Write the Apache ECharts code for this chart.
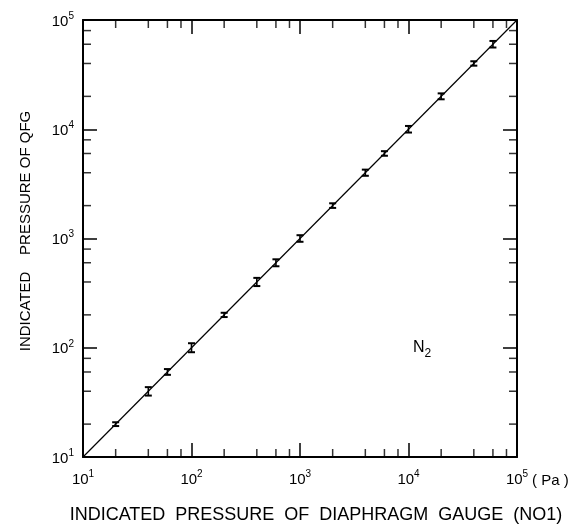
<!DOCTYPE html>
<html>
<head>
<meta charset="utf-8">
<script src="https://cdn.jsdelivr.net/npm/echarts@6/dist/echarts.min.js"></script>
<style>html,body{margin:0;padding:0;background:#fff}#c{width:571px;height:525px}</style>
</head>
<body>
<div id="c"></div>
<script>
// Indicated pressure of diaphragm gauge (Pa)
const gaugeValues = [20, 40, 60, 100, 200, 400, 600, 1000, 2000, 4000, 6000, 10000, 20000, 40000, 60000];
// Indicated pressure of QFG (Pa), central reading
const qfgValues = [20, 40, 60, 100, 200, 400, 600, 1000, 2000, 4000, 6000, 10000, 20000, 40000, 60000];
// Error bar ends
const qfgLow  = [19.2, 36.5, 56.5, 91, 191, 367, 557, 933, 1905, 3750, 5720, 9330, 18800, 38200, 56000];
const qfgHigh = [20.8, 43.6, 63.8, 110, 209, 436, 645, 1072, 2100, 4270, 6300, 10720, 21300, 41900, 64300];
// Reference line y = x
const lineEnds = [[10, 10], [100000, 100000]];
// Axis range and minor tick multipliers
const axisMin = 10, axisMax = 100000;
const minorMultipliers = [2, 4, 6, 8];
const decades = [10, 100, 1000, 10000];

const FONT = '"Liberation Sans", Arial, sans-serif';
const minorValues = [];
decades.forEach(d => minorMultipliers.forEach(m => minorValues.push(m * d)));

const errData = gaugeValues.map((x, i) => [x, qfgLow[i], qfgHigh[i], qfgValues[i]]);

const labelFmt = v => '{b|10}{s|' + Math.round(Math.log10(v)) + '}';
const labelRich = {
  b: {fontSize: 15, fontFamily: FONT, color: '#000', lineHeight: 18, verticalAlign: 'bottom'},
  s: {fontSize: 10, fontFamily: FONT, color: '#000', lineHeight: 10, verticalAlign: 'top'}
};
const axisBase = {
  type: 'log', logBase: 10, min: axisMin, max: axisMax,
  axisLine: {show: true, lineStyle: {color: '#000', width: 2}},
  axisTick: {show: true, inside: true, length: 14, lineStyle: {color: '#000', width: 1.5}},
  splitLine: {show: false},
  minorTick: {show: false}
};

const chart = echarts.init(document.getElementById('c'));
chart.setOption({
  backgroundColor: '#fff',
  animation: false,
  grid: {left: 83, right: 54, top: 20, bottom: 68},
  xAxis: [
    Object.assign({}, axisBase, {position: 'bottom',
      axisLabel: {show: true, margin: 12, formatter: labelFmt, rich: labelRich}}),
    Object.assign({}, axisBase, {position: 'top', axisLabel: {show: false}})
  ],
  yAxis: [
    Object.assign({}, axisBase, {position: 'left',
      axisLabel: {show: true, margin: 9, formatter: labelFmt, rich: labelRich}}),
    Object.assign({}, axisBase, {position: 'right', axisLabel: {show: false}})
  ],
  series: [
    {
      type: 'line', data: lineEnds, symbol: 'none', silent: true,
      lineStyle: {color: '#000', width: 1.2}
    },
    {
      type: 'custom', data: errData, encode: {x: 0, y: [1, 2]},
      renderItem: function (params, api) {
        const x = api.value(0);
        const p1 = api.coord([x, api.value(1)]);
        const p2 = api.coord([x, api.value(2)]);
        const w = 3.5;
        return {type: 'group', children: [
          {type: 'line', shape: {x1: p1[0], y1: p1[1], x2: p2[0], y2: p2[1]}, style: {stroke: '#000', lineWidth: 1.6}},
          {type: 'line', shape: {x1: p1[0] - w, y1: p1[1], x2: p1[0] + w, y2: p1[1]}, style: {stroke: '#000', lineWidth: 2}},
          {type: 'line', shape: {x1: p2[0] - w, y1: p2[1], x2: p2[0] + w, y2: p2[1]}, style: {stroke: '#000', lineWidth: 2}}
        ]};
      }
    },
    {type: 'scatter', silent: true, data: minorValues.map(v => [v, axisMin]), symbol: 'rect', symbolSize: [1.5, 8], symbolOffset: [0, -4], itemStyle: {color: '#000'}},
    {type: 'scatter', silent: true, data: minorValues.map(v => [v, axisMax]), symbol: 'rect', symbolSize: [1.5, 8], symbolOffset: [0, 4], itemStyle: {color: '#000'}},
    {type: 'scatter', silent: true, data: minorValues.map(v => [axisMin, v]), symbol: 'rect', symbolSize: [8, 1.5], symbolOffset: [4, 0], itemStyle: {color: '#000'}},
    {type: 'scatter', silent: true, data: minorValues.map(v => [axisMax, v]), symbol: 'rect', symbolSize: [8, 1.5], symbolOffset: [-4, 0], itemStyle: {color: '#000'}}
  ],
  graphic: [
    {type: 'text', x: 316, y: 515, style: {text: 'INDICATED  PRESSURE  OF  DIAPHRAGM  GAUGE  (NO1)', font: '18px ' + FONT, fill: '#000', textAlign: 'center', textVerticalAlign: 'middle'}},
    {type: 'text', x: 26, y: 231, rotation: Math.PI / 2, style: {text: 'INDICATED    PRESSURE OF QFG', font: '15px ' + FONT, fill: '#000', textAlign: 'center', textVerticalAlign: 'middle'}},
    {type: 'text', x: 532, y: 481, style: {text: '( Pa )', font: '15px ' + FONT, fill: '#000', textAlign: 'left', textVerticalAlign: 'middle'}},
    {type: 'text', x: 413, y: 350, style: {text: '{n|N}{s|2}', fill: '#000', textAlign: 'left', textVerticalAlign: 'middle',
      rich: {n: {fontSize: 16, fontFamily: FONT, lineHeight: 20, verticalAlign: 'top'}, s: {fontSize: 12, fontFamily: FONT, lineHeight: 14, verticalAlign: 'bottom'}}}}
  ]
});
</script>
</body>
</html>
